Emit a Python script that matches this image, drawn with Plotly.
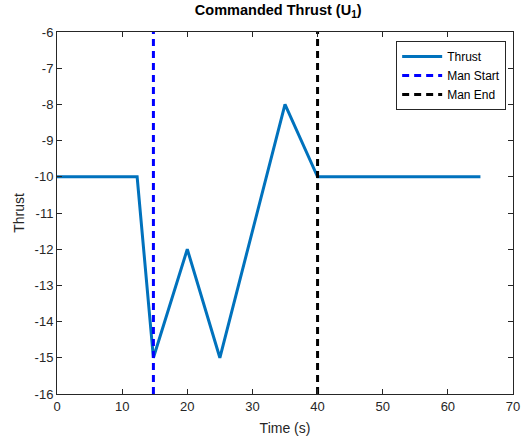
import plotly.graph_objects as go

time = [0, 12.3, 14.8, 20, 25, 35, 40, 65]
thrust = [-10, -10, -15, -12, -15, -8, -10, -10]
man_start = 14.8
man_end = 40
y_range = [-16, -6]
x_ticks = [0, 10, 20, 30, 40, 50, 60, 70]
y_ticks = [-16, -15, -14, -13, -12, -11, -10, -9, -8, -7, -6]
y_tick_text = [str(v) for v in y_ticks]

fig = go.Figure()
fig.add_trace(go.Scatter(x=time, y=thrust, mode="lines", name="Thrust",
                         line=dict(color="#0072BD", width=3)))
fig.add_trace(go.Scatter(x=[man_start, man_start], y=y_range, mode="lines", name="Man Start",
                         line=dict(color="#0000FF", width=3, dash="7px,5px")))
fig.add_trace(go.Scatter(x=[man_end, man_end], y=y_range, mode="lines", name="Man End",
                         line=dict(color="#000000", width=3, dash="7px,5px")))

axis_common = dict(showgrid=False, zeroline=False, showline=True, linecolor="#262626",
                   linewidth=1, mirror="ticks", ticks="inside", ticklen=5,
                   tickcolor="#262626", tickfont=dict(size=13, color="#262626"),
                   automargin=False)

fig.update_layout(
    width=525, height=442,
    margin=dict(l=57, r=12, t=32, b=48),
    paper_bgcolor="white", plot_bgcolor="white",
    font=dict(family="Liberation Sans, Arial, sans-serif", color="#262626"),
    title=dict(text="<b>Commanded Thrust (U<sub>1</sub>)</b>", x=0.53, xanchor="center",
               y=0.988, yanchor="top", font=dict(size=14.5, color="black")),
    xaxis=dict(range=[0, 70], tickvals=x_ticks, title=dict(text="Time (s)", font=dict(size=14), standoff=10),
               **axis_common),
    yaxis=dict(range=y_range, tickvals=y_ticks, ticktext=y_tick_text,
               title=dict(text="Thrust", font=dict(size=14), standoff=6),
               **axis_common),
    legend=dict(x=0.985, y=0.975, xanchor="right", yanchor="top", bgcolor="white",
                bordercolor="#262626", borderwidth=1, font=dict(size=12, color="black"),
                tracegroupgap=0, itemwidth=40),
    showlegend=True,
)

fig.write_html("out.html")
